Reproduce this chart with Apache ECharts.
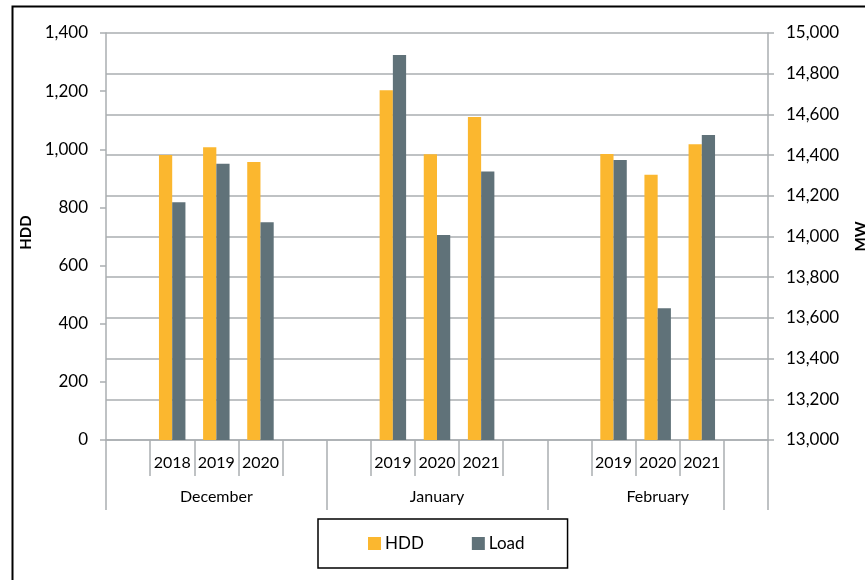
<!DOCTYPE html>
<html>
<head>
<meta charset="utf-8">
<title>HDD and Load by winter month</title>
<script src="https://cdn.jsdelivr.net/npm/echarts@6/dist/echarts.min.js"></script>
<style>
  html, body { margin: 0; padding: 0; background: #fff; }
  #chart { width: 865px; height: 580px; }
</style>
</head>
<body>
<div id="chart"></div>
<script>
// Winter months and the years shown under each one
const months = ['December', 'January', 'February'];
const yearLabels = [
  ['2018', '2019', '2020'],
  ['2019', '2020', '2021'],
  ['2019', '2020', '2021']
];
// Heating degree days per month/year
const hddValues = [
  [980, 1007, 956],
  [1203, 983, 1111],
  [984, 912, 1017]
];
// Average load (MW) per month/year
const loadValues = [
  [14168, 14358, 14070],
  [14892, 14007, 14320],
  [14376, 13647, 14499]
];
// Axis ranges
const hddRange = { min: 0, max: 1400, step: 200 };
const mwRange = { min: 13000, max: 15000, step: 200 };

// Each month occupies five slots: blank, three years, blank
const yearSlots = [];
const monthSlots = [];
const hddSeries = [];
const loadSeries = [];
months.forEach(function (m, i) {
  yearSlots.push('');
  monthSlots.push('');
  hddSeries.push('-');
  loadSeries.push('-');
  yearLabels[i].forEach(function (y, j) {
    yearSlots.push(y);
    monthSlots.push(j === 1 ? m : '');
    hddSeries.push(hddValues[i][j]);
    loadSeries.push(loadValues[i][j]);
  });
  yearSlots.push('');
  monthSlots.push('');
  hddSeries.push('-');
  loadSeries.push('-');
});

const FONT = 'Lato, "Open Sans", sans-serif';
const GRID_GRAY = '#AAAEB1';
const withCommas = function (v) {
  return String(v).replace(/\B(?=(\d{3})+(?!\d))/g, ',');
};

const chart = echarts.init(document.getElementById('chart'), null, { renderer: 'canvas' });

chart.setOption({
  animation: false,
  backgroundColor: '#ffffff',
  textStyle: { fontFamily: FONT },
  graphic: [{
    type: 'rect',
    left: 10,
    top: 4,
    shape: { width: 900, height: 620 },
    style: { fill: 'none', stroke: '#000', lineWidth: 2 },
    silent: true,
    z: 100
  }],
  grid: {
    left: 106, right: 97, top: 33, bottom: 140,
    containLabel: false,
    outerBoundsMode: 'none'
  },
  legend: {
    left: 318,
    top: 519,
    width: 'auto',
    padding: [16, 43, 16, 50],
    borderColor: '#000',
    borderWidth: 1.5,
    itemWidth: 13,
    itemHeight: 13,
    itemGap: 48,
    icon: 'rect',
    textStyle: { fontFamily: FONT, fontSize: 17, color: '#000', padding: [0, 0, 0, -1] },
    data: ['HDD', 'Load']
  },
  xAxis: [
    {
      type: 'category',
      data: yearSlots,
      boundaryGap: true,
      axisLine: { show: true, lineStyle: { color: GRID_GRAY, width: 1.5 } },
      axisTick: { show: true, interval: 0, length: 36, lineStyle: { color: GRID_GRAY, width: 1.5 } },
      axisLabel: { interval: 0, margin: 15, fontSize: 16, color: '#000', fontFamily: FONT },
      splitLine: { show: false }
    },
    {
      type: 'category',
      data: monthSlots,
      position: 'bottom',
      boundaryGap: true,
      axisLine: { show: false },
      axisTick: {
        show: true,
        interval: function (i) { return i % 5 === 0 || i === monthSlots.length - 1; },
        length: 70,
        lineStyle: { color: GRID_GRAY, width: 1.5 }
      },
      axisLabel: { interval: 0, margin: 49, fontSize: 16, color: '#000', fontFamily: FONT },
      splitLine: { show: false }
    }
  ],
  yAxis: [
    {
      type: 'value',
      name: 'HDD',
      nameLocation: 'middle',
      nameRotate: 90,
      nameGap: 72,
      nameTextStyle: { fontFamily: FONT, fontSize: 15, fontWeight: 'bold', color: '#000', padding: [0, 0, 0, 8] },
      min: hddRange.min,
      max: hddRange.max,
      interval: hddRange.step,
      axisLine: { show: true, lineStyle: { color: GRID_GRAY, width: 1.5 } },
      axisTick: { show: true, length: 6, lineStyle: { color: GRID_GRAY, width: 1.5 } },
      axisLabel: { margin: 18, fontSize: 17, color: '#000', fontFamily: FONT, formatter: withCommas },
      splitLine: { show: false }
    },
    {
      type: 'value',
      name: 'MW',
      nameLocation: 'middle',
      nameRotate: 90,
      nameGap: 86,
      nameTextStyle: { fontFamily: FONT, fontSize: 15, fontWeight: 'bold', color: '#000' },
      min: mwRange.min,
      max: mwRange.max,
      interval: mwRange.step,
      position: 'right',
      axisLine: { show: true, lineStyle: { color: GRID_GRAY, width: 1.5 } },
      axisTick: { show: true, length: 6, lineStyle: { color: GRID_GRAY, width: 1.5 } },
      axisLabel: { margin: 18, fontSize: 17, color: '#000', fontFamily: FONT, formatter: withCommas },
      splitLine: { show: true, lineStyle: { color: GRID_GRAY, width: 1.5 } }
    }
  ],
  series: [
    {
      name: 'HDD',
      type: 'bar',
      xAxisIndex: 0,
      yAxisIndex: 0,
      data: hddSeries,
      barWidth: '30%',
      barGap: '0%',
      itemStyle: { color: '#FBB72F' }
    },
    {
      name: 'Load',
      type: 'bar',
      xAxisIndex: 0,
      yAxisIndex: 1,
      data: loadSeries,
      barWidth: '30%',
      barGap: '0%',
      itemStyle: { color: '#607279' }
    }
  ]
});
</script>
</body>
</html>
